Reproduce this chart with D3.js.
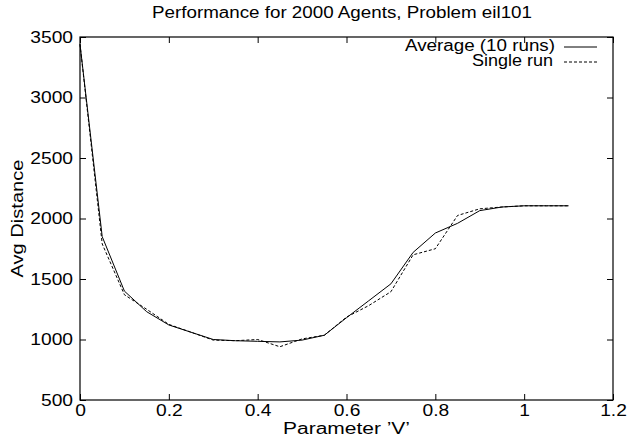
<!DOCTYPE html>
<html><head><meta charset="utf-8">
<script src="https://cdn.jsdelivr.net/npm/d3@7"></script>
<style>
body{margin:0;background:#fff}
svg{display:block}
text{font-family:"Liberation Sans",Arial,Helvetica,sans-serif;fill:#000}
</style>
</head><body>
<svg id="c" width="640" height="437"></svg>
<script>
const paramV = [0,0.05,0.1,0.15,0.2,0.25,0.3,0.35,0.4,0.45,0.5,0.55,0.6,0.65,0.7,0.75,0.8,0.85,0.9,0.95,1.0,1.05,1.1];
const avgDistance = [3440,1850,1400,1230,1120,1060,1000,990,985,980,995,1035,1180,1320,1460,1720,1880,1960,2065,2095,2105,2105,2105];
const singleRun   = [3440,1790,1370,1250,1125,1060,995,990,1000,940,1005,1035,1185,1280,1395,1700,1750,2025,2080,2095,2105,2105,2105];
const xTicks = [0,0.2,0.4,0.6,0.8,1,1.2];
const yTicks = [500,1000,1500,2000,2500,3000,3500];
const seriesNames = ["Average (10 runs)","Single run"];
const titleText = "Performance for 2000 Agents, Problem eil101";
const xLabelText = "Parameter \u2019V\u2019";
const yLabelText = "Avg Distance";

const svg = d3.select("#c");
const L = 80, R = 613, T = 37, B = 400;
const x = d3.scaleLinear().domain([0,1.2]).range([L,R]);
const y = d3.scaleLinear().domain([500,3500]).range([B,T]);
const FS = 16, STRETCH = 1.2;

function stretch(sel, target){
  sel.each(function(){
    const w = this.getComputedTextLength();
    d3.select(this).attr("textLength", target != null ? target : w*STRETCH).attr("lengthAdjust","spacingAndGlyphs");
  });
}

const gx = svg.append("g").attr("transform",`translate(0,${B})`)
  .call(d3.axisBottom(x).tickValues(xTicks).tickFormat(d3.format("~g")).tickSizeInner(-6).tickSizeOuter(0).tickPadding(5));
const gy = svg.append("g").attr("transform",`translate(${L},0)`)
  .call(d3.axisLeft(y).tickValues(yTicks).tickFormat(d3.format("d")).tickSizeInner(-6).tickSizeOuter(0).tickPadding(7));
const gxt = svg.append("g").attr("transform",`translate(0,${T})`)
  .call(d3.axisTop(x).tickValues(xTicks).tickFormat("").tickSizeInner(-6).tickSizeOuter(0));
const gyr = svg.append("g").attr("transform",`translate(${R},0)`)
  .call(d3.axisRight(y).tickValues(yTicks).tickFormat("").tickSizeInner(-6).tickSizeOuter(0));
[gx,gy,gxt,gyr].forEach(g=>{
  g.select(".domain").remove();
  g.selectAll("line").attr("stroke","#000").attr("stroke-width",1);
  g.selectAll("text").attr("font-size",FS).attr("font-family","Liberation Sans, Arial, sans-serif").attr("fill","#000");
});
stretch(gx.selectAll("text"));
stretch(gy.selectAll("text"));

svg.append("rect").attr("x",L).attr("y",T).attr("width",R-L).attr("height",B-T)
  .attr("fill","none").attr("stroke","#000").attr("stroke-width",1.2);

const line = d3.line().x((d,i)=>x(paramV[i])).y(d=>y(d));
svg.append("path").datum(avgDistance).attr("d",line).attr("fill","none").attr("stroke","#000").attr("stroke-width",1);
svg.append("path").datum(singleRun).attr("d",line).attr("fill","none").attr("stroke","#000").attr("stroke-width",1).attr("stroke-dasharray","3,2");

svg.append("text").attr("x",342).attr("y",18).attr("text-anchor","middle").attr("font-size",FS)
  .text(titleText).call(stretch,380);

const leg = [
  {name:seriesNames[0], tx:555, ty:51, ly:47, dash:null, w:150},
  {name:seriesNames[1], tx:553, ty:66, ly:62, dash:"3,2", w:81}
];
leg.forEach(o=>{
  svg.append("text").attr("x",o.tx).attr("y",o.ty).attr("text-anchor","end").attr("font-size",FS).text(o.name).call(stretch,o.w);
  svg.append("line").attr("x1",564).attr("x2",597).attr("y1",o.ly).attr("y2",o.ly)
    .attr("stroke","#000").attr("stroke-width",1).attr("stroke-dasharray",o.dash);
});

svg.append("text").attr("x",(L+R)/2).attr("y",434).attr("text-anchor","middle").attr("font-size",FS)
  .text(xLabelText).call(stretch,127);
svg.append("text").attr("transform",`translate(23,${(T+B)/2}) rotate(-90)`).attr("text-anchor","middle").attr("font-size",FS)
  .text(yLabelText).call(stretch,118);
</script>
</body></html>
